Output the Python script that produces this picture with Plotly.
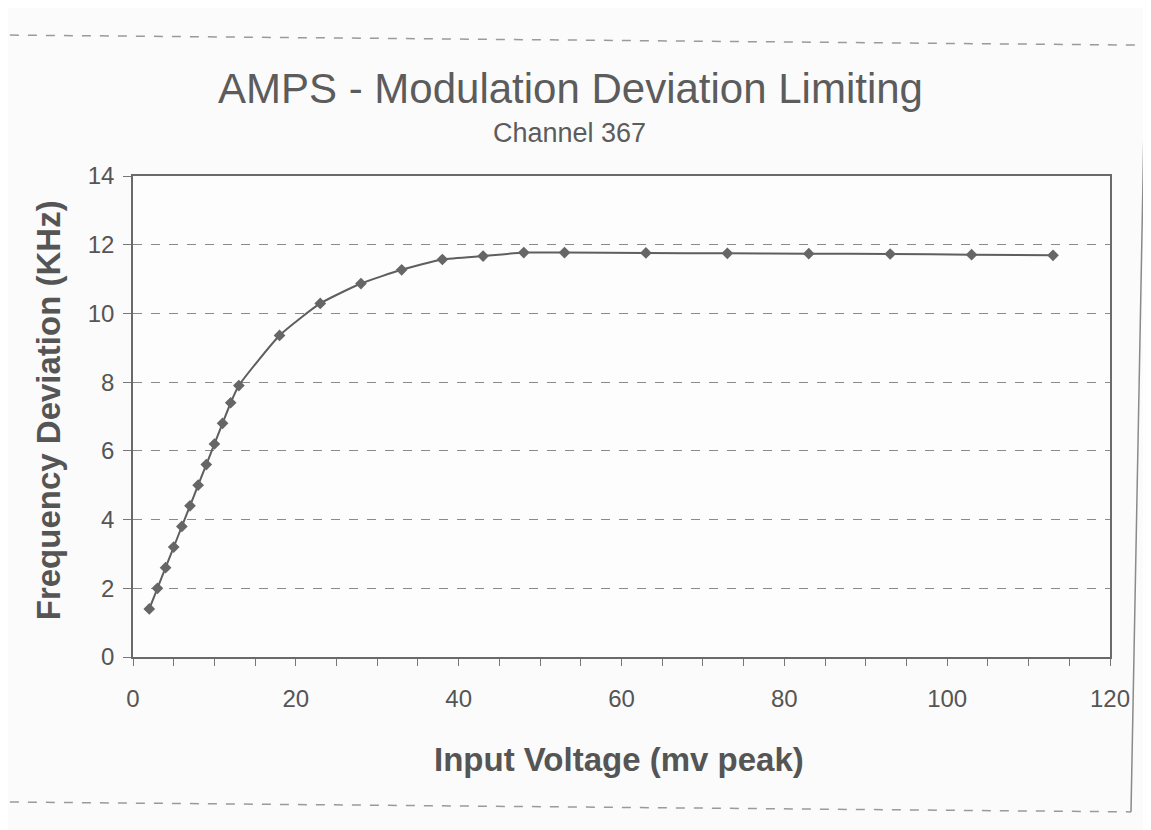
import plotly.graph_objects as go

input_mv = [2, 3, 4, 5, 6, 7, 8, 9, 10, 11, 12, 13, 18, 23, 28, 33, 38, 43, 48, 53, 63, 73, 83, 93, 103, 113]
deviation_khz = [1.4, 2.0, 2.6, 3.2, 3.8, 4.4, 5.0, 5.6, 6.2, 6.8, 7.4, 7.9, 9.36, 10.29, 10.87, 11.27,
                 11.57, 11.67, 11.77, 11.77, 11.76, 11.75, 11.74, 11.73, 11.71, 11.69]
x_ticks = [0, 20, 40, 60, 80, 100, 120]
y_ticks = [0, 2, 4, 6, 8, 10, 12, 14]

title_text = "AMPS - Modulation Deviation Limiting"
subtitle_text = "Channel 367"
x_title = "Input Voltage (mv peak)"
y_title = "Frequency Deviation (KHz)"

FONT = "Liberation Sans, Arial, sans-serif"
GRAY = "#555555"

fig = go.Figure()
fig.add_trace(go.Scatter(
    x=input_mv, y=deviation_khz, mode="lines+markers",
    line=dict(color="#5e5e5e", width=2, shape="spline", smoothing=0.5),
    marker=dict(symbol="diamond", size=9, color="#666666"),
    showlegend=False,
))

fig.update_layout(
    width=1151, height=830,
    margin=dict(l=125, r=49, t=168, b=181),
    paper_bgcolor="#fbfbfb", plot_bgcolor="#fdfdfd",
    font=dict(family=FONT, color=GRAY),
    xaxis=dict(
        range=[0, 120], tickvals=x_ticks, showgrid=False, zeroline=False,
        showline=True, linecolor="#6a6a6a", linewidth=1.5, mirror=True,
        ticks="outside", ticklen=7, tickcolor="#777777",
        minor=dict(dtick=5, ticks="outside", ticklen=7, tickcolor="#777777", showgrid=False),
        tickfont=dict(size=24, color=GRAY, family=FONT), ticklabelstandoff=12,
    ),
    yaxis=dict(
        range=[0, 14], tickvals=y_ticks, showgrid=True, gridcolor="#8a8a8a",
        griddash="dash", gridwidth=1, zeroline=False,
        showline=True, linecolor="#6a6a6a", linewidth=1.5, mirror=True,
        ticks="outside", ticklen=8, tickcolor="#777777",
        tickfont=dict(size=24, color=GRAY, family=FONT), ticklabelstandoff=4,
    ),
    annotations=[
        dict(text=title_text, x=0.448, y=1.181, xref="paper", yref="paper", showarrow=False,
             xanchor="center", yanchor="middle",
             font=dict(size=42, color="#5c5c5c", family=FONT)),
        dict(text=subtitle_text, x=0.447, y=1.089, xref="paper", yref="paper", showarrow=False,
             xanchor="center", yanchor="middle",
             font=dict(size=27, color="#5c5c5c", family=FONT)),
        dict(text="<b>" + x_title + "</b>", x=0.497, y=-0.214, xref="paper", yref="paper",
             showarrow=False, xanchor="center", yanchor="middle",
             font=dict(size=33, color="#555555", family=FONT)),
        dict(text="<b>" + y_title + "</b>", x=-0.087, y=0.513, xref="paper", yref="paper",
             showarrow=False, textangle=-90, xanchor="center", yanchor="middle",
             font=dict(size=33, color="#555555", family=FONT)),
    ],
    shapes=[
        dict(type="line", xref="paper", yref="paper", x0=-0.126, x1=1.036, y0=1.293, y1=1.272,
             line=dict(color="#9a9a9a", width=1.5, dash="dash")),
        dict(type="line", xref="paper", yref="paper", x0=-0.126, x1=1.0215, y0=-0.3015, y1=-0.322,
             line=dict(color="#9a9a9a", width=1.5, dash="dash")),
        dict(type="line", xref="paper", yref="paper", x0=1.036, x1=1.0215, y0=1.23, y1=-0.322,
             line=dict(color="#8a8a8a", width=1.5)),
    ],
)

fig.write_html("out.html")
